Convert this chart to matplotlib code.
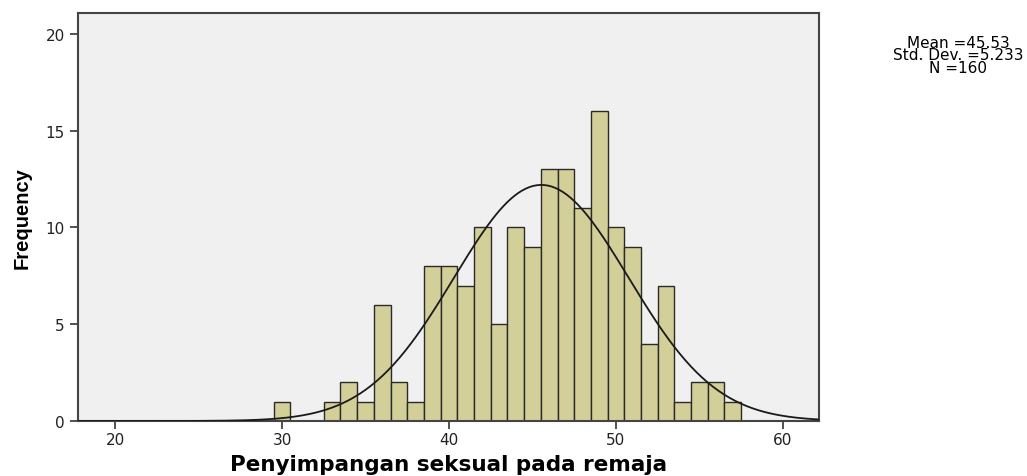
import matplotlib
matplotlib.use("Agg")
import matplotlib.pyplot as plt
import numpy as np

# bin centres (width 1) and counts
scores = [30, 31, 32, 33, 34, 35, 36, 37, 38, 39, 40, 41, 42, 43, 44, 45, 46, 47,
          48, 49, 50, 51, 52, 53, 54, 55, 56, 57]
counts = [1, 0, 0, 1, 2, 1, 6, 2, 1, 8, 8, 7, 10, 5, 10, 9, 13, 13,
          11, 16, 10, 9, 4, 7, 1, 2, 2, 1]
mean = 45.53
std_dev = 5.233
n_total = 160
x_ticks = [20, 30, 40, 50, 60]
y_ticks = [0, 5, 10, 15, 20]

plt.rcParams['font.family'] = ['DejaVu Sans']

fig = plt.figure(figsize=(10.27, 4.77), dpi=100)
ax = fig.add_axes([78 / 1027, 1 - 422 / 477, (819 - 78) / 1027, (422 - 14) / 477])
ax.set_facecolor("#f0f0f0")

ax.bar(scores, counts, width=1.0, color="#d3cf98", edgecolor="#2a2a2a", linewidth=1.0,
       zorder=2)

x = np.linspace(17.78, 62.16, 400)
pdf = n_total * 1.0 / (std_dev * np.sqrt(2 * np.pi)) * np.exp(-0.5 * ((x - mean) / std_dev) ** 2)
ax.plot(x, pdf, color="#1a1a1a", lw=1.3, zorder=3)

ax.set_xlim(17.78, 62.16)
ax.set_ylim(0, 21.08)
ax.set_xticks(x_ticks)
ax.set_yticks(y_ticks)
ax.tick_params(direction="out", length=6, width=1.2, color="#333333", labelsize=11,
               labelcolor="#222222")
ax.tick_params(axis="x", pad=2)
for sp in ax.spines.values():
    sp.set_color("#444444")
    sp.set_linewidth(1.5)

ax.set_xlabel("Penyimpangan seksual pada remaja", fontsize=15.5, fontweight="bold",
              va="center")
ax.xaxis.set_label_coords(0.5, -(465 - 422) / 408)
ax.set_ylabel("Frequency", fontsize=14.5, fontweight="bold", va="center",
              family="Liberation Sans")
ax.yaxis.set_label_coords(-(78 - 22) / 741, 0.5)

fig.text(958 / 1027, 1 - 56 / 477,
         "Mean =%.2f\nStd. Dev. =%.3f\nN =%d" % (mean, std_dev, n_total),
         ha="center", va="center", fontsize=11, linespacing=0.8)

fig.savefig("out.png", dpi=100)
